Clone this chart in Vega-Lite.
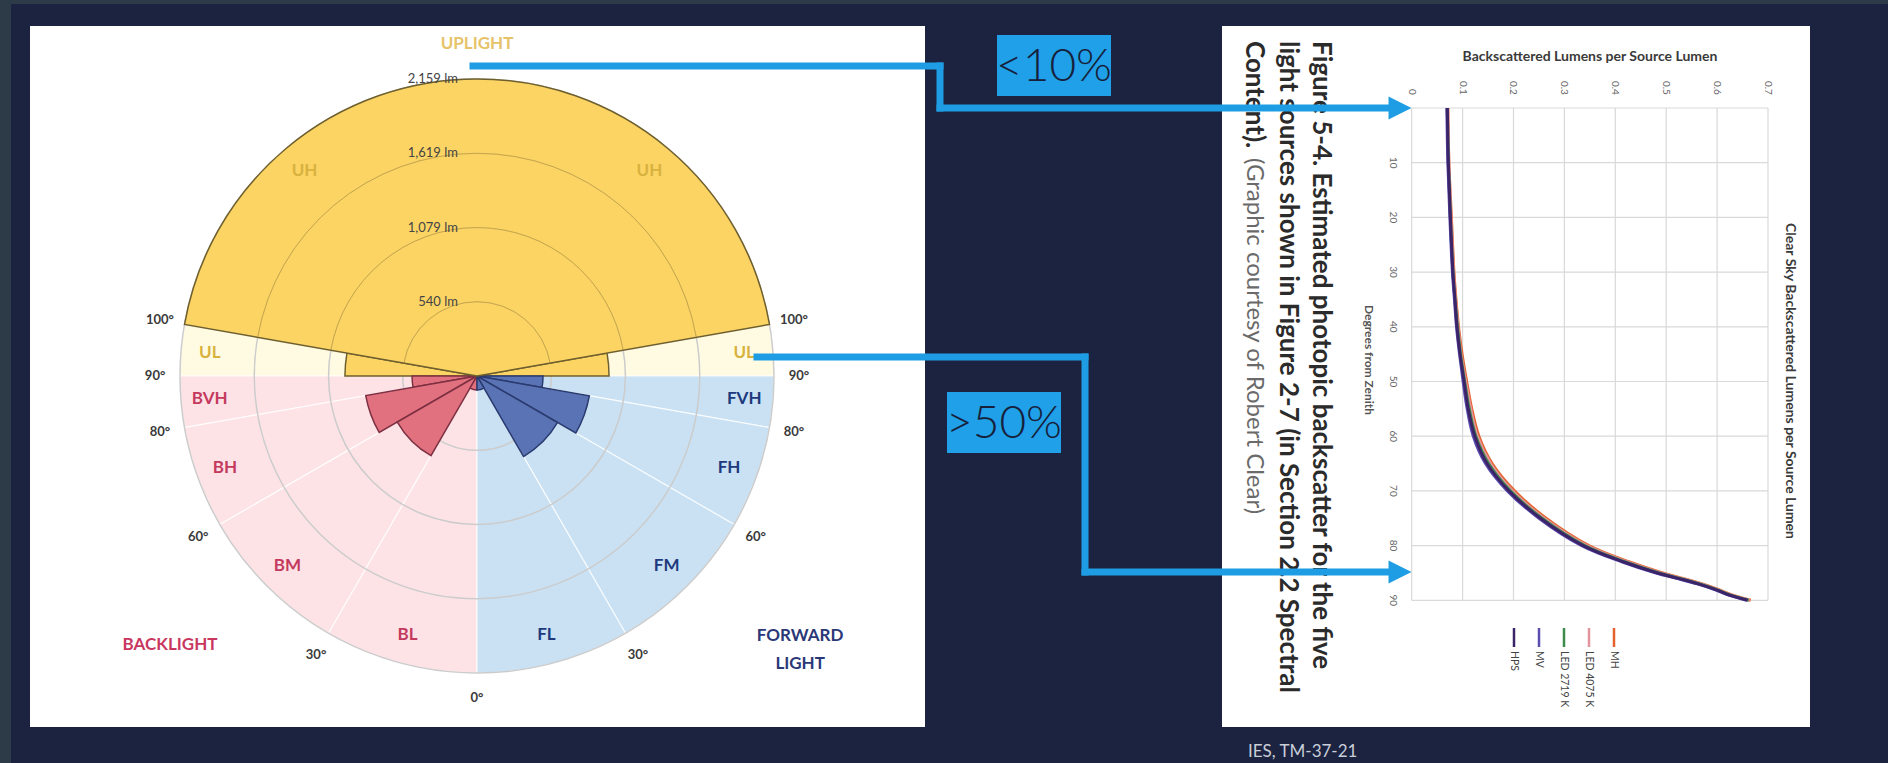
{
"$schema":"https://vega.github.io/schema/vega-lite/v6.json",
"width":1888,"height":763,"autosize":{"type":"none"},"padding":0,
"background":"#2c3b47",
"config":{"view":{"stroke":null},"font":"Lato"},
"datasets":{
"zones":[
{"zone":"UL","side":"back","region":"Uplight","a1":270,"a2":280,"lumens":960},
{"zone":"UL","side":"front","region":"Uplight","a1":80,"a2":90,"lumens":960},
{"zone":"BVH","side":"back","region":"Backlight","a1":260,"a2":270,"lumens":472},
{"zone":"BH","side":"back","region":"Backlight","a1":240,"a2":260,"lumens":821},
{"zone":"BM","side":"back","region":"Backlight","a1":210,"a2":240,"lumens":669},
{"zone":"BL","side":"back","region":"Backlight","a1":180,"a2":210,"lumens":102},
{"zone":"FVH","side":"front","region":"Forward light","a1":90,"a2":100,"lumens":480},
{"zone":"FH","side":"front","region":"Forward light","a1":100,"a2":120,"lumens":829},
{"zone":"FM","side":"front","region":"Forward light","a1":120,"a2":150,"lumens":676},
{"zone":"FL","side":"front","region":"Forward light","a1":150,"a2":180,"lumens":102},
{"zone":"UH","side":"back","region":"Uplight","a1":280,"a2":360,"lumens":2159},
{"zone":"UH","side":"front","region":"Uplight","a1":360,"a2":440,"lumens":2159}
],
"rings":[{"lm":0,"label":"0 lm"},{"lm":540,"label":"540 lm"},{"lm":1079,"label":"1,079 lm"},{"lm":1619,"label":"1,619 lm"},{"lm":2159,"label":"2,159 lm"}],
"angleTicks":[{"a":80,"label":"100°"},{"a":90,"label":"90°"},{"a":100,"label":"80°"},{"a":120,"label":"60°"},{"a":150,"label":"30°"},{"a":180,"label":"0°"},{"a":210,"label":"30°"},{"a":240,"label":"60°"},{"a":260,"label":"80°"},{"a":270,"label":"90°"},{"a":280,"label":"100°"}],
"xticks":[{"t":0},{"t":0.1},{"t":0.2},{"t":0.3},{"t":0.4},{"t":0.5},{"t":0.6},{"t":0.7}],
"yticks":[{"t":0},{"t":10},{"t":20},{"t":30},{"t":40},{"t":50},{"t":60},{"t":70},{"t":80},{"t":90}],
"backscatter":[
{"series":"MH","deg":0,"v":0.071},{"series":"MH","deg":10,"v":0.073},{"series":"MH","deg":20,"v":0.078},{"series":"MH","deg":30,"v":0.083},{"series":"MH","deg":35,"v":0.087},{"series":"MH","deg":40,"v":0.092},{"series":"MH","deg":45,"v":0.099},{"series":"MH","deg":50,"v":0.108},{"series":"MH","deg":55,"v":0.118},{"series":"MH","deg":60,"v":0.132},{"series":"MH","deg":65,"v":0.158},{"series":"MH","deg":70,"v":0.202},{"series":"MH","deg":75,"v":0.264},{"series":"MH","deg":80,"v":0.348},{"series":"MH","deg":83,"v":0.428},{"series":"MH","deg":85,"v":0.493},{"series":"MH","deg":86,"v":0.533},{"series":"MH","deg":87,"v":0.571},{"series":"MH","deg":88,"v":0.602},{"series":"MH","deg":89,"v":0.629},{"series":"MH","deg":90,"v":0.666},
{"series":"LED 4075 K","deg":0,"v":0.071},{"series":"LED 4075 K","deg":10,"v":0.073},{"series":"LED 4075 K","deg":20,"v":0.077},{"series":"LED 4075 K","deg":30,"v":0.082},{"series":"LED 4075 K","deg":35,"v":0.086},{"series":"LED 4075 K","deg":40,"v":0.091},{"series":"LED 4075 K","deg":45,"v":0.097},{"series":"LED 4075 K","deg":50,"v":0.106},{"series":"LED 4075 K","deg":55,"v":0.116},{"series":"LED 4075 K","deg":60,"v":0.129},{"series":"LED 4075 K","deg":65,"v":0.155},{"series":"LED 4075 K","deg":70,"v":0.198},{"series":"LED 4075 K","deg":75,"v":0.26},{"series":"LED 4075 K","deg":80,"v":0.344},{"series":"LED 4075 K","deg":83,"v":0.424},{"series":"LED 4075 K","deg":85,"v":0.489},{"series":"LED 4075 K","deg":86,"v":0.53},{"series":"LED 4075 K","deg":87,"v":0.569},{"series":"LED 4075 K","deg":88,"v":0.6},{"series":"LED 4075 K","deg":89,"v":0.627},{"series":"LED 4075 K","deg":90,"v":0.664},
{"series":"LED 2719 K","deg":0,"v":0.07},{"series":"LED 2719 K","deg":10,"v":0.072},{"series":"LED 2719 K","deg":20,"v":0.076},{"series":"LED 2719 K","deg":30,"v":0.081},{"series":"LED 2719 K","deg":35,"v":0.085},{"series":"LED 2719 K","deg":40,"v":0.09},{"series":"LED 2719 K","deg":45,"v":0.096},{"series":"LED 2719 K","deg":50,"v":0.104},{"series":"LED 2719 K","deg":55,"v":0.113},{"series":"LED 2719 K","deg":60,"v":0.126},{"series":"LED 2719 K","deg":65,"v":0.151},{"series":"LED 2719 K","deg":70,"v":0.194},{"series":"LED 2719 K","deg":75,"v":0.256},{"series":"LED 2719 K","deg":80,"v":0.34},{"series":"LED 2719 K","deg":83,"v":0.42},{"series":"LED 2719 K","deg":85,"v":0.486},{"series":"LED 2719 K","deg":86,"v":0.527},{"series":"LED 2719 K","deg":87,"v":0.566},{"series":"LED 2719 K","deg":88,"v":0.598},{"series":"LED 2719 K","deg":89,"v":0.625},{"series":"LED 2719 K","deg":90,"v":0.662},
{"series":"MV","deg":0,"v":0.069},{"series":"MV","deg":10,"v":0.071},{"series":"MV","deg":20,"v":0.075},{"series":"MV","deg":30,"v":0.08},{"series":"MV","deg":35,"v":0.084},{"series":"MV","deg":40,"v":0.088},{"series":"MV","deg":45,"v":0.094},{"series":"MV","deg":50,"v":0.101},{"series":"MV","deg":55,"v":0.109},{"series":"MV","deg":60,"v":0.121},{"series":"MV","deg":65,"v":0.145},{"series":"MV","deg":70,"v":0.188},{"series":"MV","deg":75,"v":0.25},{"series":"MV","deg":80,"v":0.334},{"series":"MV","deg":83,"v":0.414},{"series":"MV","deg":85,"v":0.48},{"series":"MV","deg":86,"v":0.521},{"series":"MV","deg":87,"v":0.561},{"series":"MV","deg":88,"v":0.594},{"series":"MV","deg":89,"v":0.621},{"series":"MV","deg":90,"v":0.658},
{"series":"HPS","deg":0,"v":0.07},{"series":"HPS","deg":10,"v":0.072},{"series":"HPS","deg":20,"v":0.076},{"series":"HPS","deg":30,"v":0.081},{"series":"HPS","deg":35,"v":0.085},{"series":"HPS","deg":40,"v":0.089},{"series":"HPS","deg":45,"v":0.095},{"series":"HPS","deg":50,"v":0.103},{"series":"HPS","deg":55,"v":0.111},{"series":"HPS","deg":60,"v":0.124},{"series":"HPS","deg":65,"v":0.148},{"series":"HPS","deg":70,"v":0.191},{"series":"HPS","deg":75,"v":0.253},{"series":"HPS","deg":80,"v":0.337},{"series":"HPS","deg":83,"v":0.417},{"series":"HPS","deg":85,"v":0.483},{"series":"HPS","deg":86,"v":0.524},{"series":"HPS","deg":87,"v":0.563},{"series":"HPS","deg":88,"v":0.596},{"series":"HPS","deg":89,"v":0.623},{"series":"HPS","deg":90,"v":0.66}
]
},
"resolve":{"scale":{"x":"independent","y":"independent"}},
"layer":[
{
"layer":[
{"data":{"values":[{}]},"mark":{"type":"rect","color":"#1b2340"},"encoding":{"x":{"datum":11,"type":"quantitative","scale":{"domain":[0,1888],"nice":false,"zero":false},"axis":null},"x2":{"datum":1888},"y":{"datum":4,"type":"quantitative","scale":{"domain":[0,763],"reverse":true,"nice":false,"zero":false},"axis":null},"y2":{"datum":763}}},
{"data":{"values":[{}]},"mark":{"type":"rect","color":"#ffffff"},"encoding":{"x":{"datum":30,"type":"quantitative","axis":null},"x2":{"datum":925},"y":{"datum":26,"type":"quantitative","axis":null},"y2":{"datum":727}}},
{"data":{"values":[{}]},"mark":{"type":"rect","color":"#ffffff"},"encoding":{"x":{"datum":1222,"type":"quantitative","axis":null},"x2":{"datum":1810},"y":{"datum":26,"type":"quantitative","axis":null},"y2":{"datum":727}}},
{"data":{"name":"zones"},"mark":{"type":"arc","stroke":"#ffffff","strokeWidth":1.2,"strokeOpacity":0.8},
 "encoding":{"x":{"datum":477,"type":"quantitative","axis":null},"y":{"datum":376,"type":"quantitative","axis":null},
 "theta":{"field":"a1","type":"quantitative","stack":null,"scale":{"domain":[0,360],"range":[0,6.283185307179586],"nice":false,"zero":false}},"theta2":{"field":"a2"},
 "radius":{"datum":2159,"type":"quantitative","scale":{"type":"linear","domain":[0,2159],"range":[0,297],"nice":false,"zero":true}},
 "fill":{"condition":[{"test":"datum.region === 'Backlight'","value":"#fde3e6"},{"test":"datum.region === 'Forward light'","value":"#c9e1f3"}],"value":"#fffbe2"}}},
{"data":{"name":"rings"},"transform":[{"filter":"datum.lm > 0"}],"mark":{"type":"arc","fillOpacity":0,"stroke":"#cccccc","strokeWidth":1.5},
 "encoding":{"x":{"datum":477,"type":"quantitative","axis":null},"y":{"datum":376,"type":"quantitative","axis":null},"theta":{"datum":0,"type":"quantitative"},"theta2":{"datum":360},"radius":{"field":"lm","type":"quantitative","stack":null}}},
{"data":{"name":"rings"},"transform":[{"filter":"datum.lm == 0"}],"mark":{"type":"text","align":"right","baseline":"middle","dx":-17,"dy":-3,"fontSize":13,"color":"#444444"},
 "encoding":{"x":{"datum":477,"type":"quantitative","axis":null},"y":{"datum":376,"type":"quantitative","axis":null},"text":{"field":"label"}}},
{"data":{"name":"zones"},"transform":[{"filter":"datum.zone !== 'UH'"}],"mark":{"type":"arc","strokeWidth":1.5},
 "encoding":{"x":{"datum":477,"type":"quantitative","axis":null},"y":{"datum":376,"type":"quantitative","axis":null},
 "theta":{"field":"a1","type":"quantitative","stack":null},"theta2":{"field":"a2"},"radius":{"field":"lumens","type":"quantitative","stack":null},
 "fill":{"condition":[{"test":"datum.region === 'Backlight'","value":"#e2717f"},{"test":"datum.region === 'Forward light'","value":"#5a73b4"}],"value":"#fcd464"},
 "stroke":{"condition":[{"test":"datum.region === 'Backlight'","value":"#7d3042"},{"test":"datum.region === 'Forward light'","value":"#2b3b70"}],"value":"#6e5f2e"}}},
{"data":{"name":"zones"},"transform":[{"filter":"datum.zone === 'UH'"},{"aggregate":[{"op":"min","field":"a1","as":"a1"},{"op":"max","field":"a2","as":"a2"},{"op":"max","field":"lumens","as":"lumens"}],"groupby":["zone","region"]}],
 "mark":{"type":"arc","fill":"#fcd464","stroke":"#6e5f2e","strokeWidth":1.5},
 "encoding":{"x":{"datum":477,"type":"quantitative","axis":null},"y":{"datum":376,"type":"quantitative","axis":null},
 "theta":{"field":"a1","type":"quantitative","stack":null},"theta2":{"field":"a2"},"radius":{"field":"lumens","type":"quantitative","stack":null}}},
{"data":{"name":"rings"},"transform":[{"filter":"datum.lm > 0 && datum.lm < 2159"}],"mark":{"type":"arc","fillOpacity":0,"stroke":"#9a8540","strokeOpacity":0.35,"strokeWidth":1},
 "encoding":{"x":{"datum":477,"type":"quantitative","axis":null},"y":{"datum":376,"type":"quantitative","axis":null},"theta":{"datum":280,"type":"quantitative"},"theta2":{"datum":440},"radius":{"field":"lm","type":"quantitative","stack":null},"radius2":{"field":"lm"}}},
{"data":{"name":"rings"},"transform":[{"filter":"datum.lm > 0"}],"mark":{"type":"text","align":"right","baseline":"middle","dx":-19,"fontSize":13,"color":"#444444"},
 "encoding":{"x":{"datum":477,"type":"quantitative","axis":null},"y":{"datum":376,"type":"quantitative","axis":null},"theta":{"datum":0,"type":"quantitative"},"radius":{"field":"lm","type":"quantitative","stack":null},"text":{"field":"label"}}},
{"data":{"name":"angleTicks"},"mark":{"type":"text","align":"center","baseline":"middle","fontSize":13,"fontWeight":"bold","color":"#3a3a3a"},
 "encoding":{"x":{"datum":477,"type":"quantitative","axis":null},"y":{"datum":376,"type":"quantitative","axis":null},"theta":{"field":"a","type":"quantitative","stack":null},"radius":{"datum":2340,"type":"quantitative"},"text":{"field":"label"}}},
{"data":{"name":"zones"},"transform":[{"fold":["a1","a2"],"as":["edge","ang"]},{"aggregate":[{"op":"mean","field":"ang","as":"mid"}],"groupby":["zone","side","region"]}],
 "mark":{"type":"text","align":"center","baseline":"middle","fontSize":17,"fontWeight":"bold"},
 "encoding":{"x":{"datum":477,"type":"quantitative","axis":null},"y":{"datum":376,"type":"quantitative","axis":null},"theta":{"field":"mid","type":"quantitative","stack":null},"radius":{"datum":1950,"type":"quantitative"},"text":{"field":"zone"},
 "color":{"condition":[{"test":"datum.region === 'Backlight'","value":"#c43a5e"},{"test":"datum.region === 'Forward light'","value":"#20397d"}],"value":"#d8b23e"}}},
{"data":{"values":[{}]},"mark":{"type":"text","text":"UPLIGHT","align":"center","baseline":"middle","fontSize":17,"fontWeight":"bold","color":"#e6c369"},
 "encoding":{"x":{"datum":477,"type":"quantitative","axis":null},"y":{"datum":376,"type":"quantitative","axis":null},"theta":{"datum":0,"type":"quantitative"},"radius":{"datum":2414,"type":"quantitative"}}},
{"data":{"values":[{}]},"mark":{"type":"text","text":"BACKLIGHT","align":"center","baseline":"middle","fontSize":17,"fontWeight":"bold","color":"#c9375f"},
 "encoding":{"x":{"datum":477,"type":"quantitative","axis":null},"y":{"datum":376,"type":"quantitative","axis":null},"theta":{"datum":228.8,"type":"quantitative"},"radius":{"datum":2966,"type":"quantitative"}}},
{"data":{"values":[{}]},"mark":{"type":"text","text":["FORWARD","LIGHT"],"lineHeight":28,"align":"center","baseline":"middle","fontSize":17,"fontWeight":"bold","color":"#2b3878"},
 "encoding":{"x":{"datum":477,"type":"quantitative","axis":null},"y":{"datum":376,"type":"quantitative","axis":null},"theta":{"datum":128.8,"type":"quantitative"},"radius":{"datum":3014,"type":"quantitative"}}}
]
},
{
"layer":[
{"data":{"name":"xticks"},"mark":{"type":"rule","color":"#d9d9d9","strokeWidth":1.2},
 "encoding":{"x":{"field":"t","type":"quantitative","scale":{"domain":[-2.77348,0.93576],"nice":false,"zero":false},"axis":null},"y":{"datum":0,"type":"quantitative","scale":{"domain":[-19.744,119.744],"reverse":true,"nice":false,"zero":false},"axis":null},"y2":{"datum":90}}},
{"data":{"name":"yticks"},"mark":{"type":"rule","color":"#d9d9d9","strokeWidth":1.2},
 "encoding":{"y":{"field":"t","type":"quantitative","axis":null},"x":{"datum":0,"type":"quantitative","axis":null},"x2":{"datum":0.7}}},
{"data":{"name":"xticks"},"mark":{"type":"text","angle":90,"align":"right","baseline":"middle","fontSize":10,"color":"#666666"},
 "encoding":{"x":{"field":"t","type":"quantitative","axis":null},"y":{"datum":-2.4,"type":"quantitative","axis":null},"text":{"field":"t","type":"quantitative","format":"~g"}}},
{"data":{"name":"yticks"},"mark":{"type":"text","angle":90,"align":"center","baseline":"top","fontSize":10,"color":"#666666"},
 "encoding":{"y":{"field":"t","type":"quantitative","axis":null},"x":{"datum":-0.027,"type":"quantitative","axis":null},"text":{"field":"t","type":"quantitative","format":"~g"}}},
{"data":{"name":"backscatter"},"mark":{"type":"line","strokeWidth":3,"interpolate":"catmull-rom"},
 "encoding":{"x":{"field":"v","type":"quantitative","axis":null},"y":{"field":"deg","type":"quantitative","axis":null},
 "color":{"field":"series","type":"nominal","scale":{"domain":["MH","LED 4075 K","LED 2719 K","MV","HPS"],"range":["#e5622d","#e4949c","#3d8c4c","#5a4cb0","#3c2468"]},"legend":null},
 "order":{"field":"deg","type":"quantitative"}}}
]
},
{
"data":{"name":"backscatter"},"transform":[{"filter":"datum.deg == 0"}],
"layer":[
{"mark":{"type":"rule","strokeWidth":2.5},
 "encoding":{"x":{"field":"series","type":"nominal","scale":{"type":"point","domain":["HPS","MV","LED 2719 K","LED 4075 K","MH"],"range":[1514,1614],"padding":0},"axis":null},"y":{"datum":628,"type":"quantitative","scale":{"domain":[0,763],"reverse":true,"nice":false,"zero":false},"axis":null},"y2":{"datum":647},
 "color":{"field":"series","type":"nominal","legend":null}}},
{"mark":{"type":"text","angle":90,"align":"left","baseline":"middle","fontSize":10.5,"color":"#444444"},
 "encoding":{"x":{"field":"series","type":"nominal","axis":null},"y":{"datum":651,"type":"quantitative","axis":null},"text":{"field":"series"}}}
]
},
{
"layer":[
{"data":{"values":[{}]},"mark":{"type":"text","text":"Figure 5-4. Estimated photopic backscatter for the five","angle":90,"align":"left","baseline":"middle","fontSize":26,"fontWeight":"bold","color":"#2b2b2b"},
 "encoding":{"x":{"datum":1321,"type":"quantitative","scale":{"domain":[0,1888],"nice":false,"zero":false},"axis":null},"y":{"datum":41,"type":"quantitative","scale":{"domain":[0,763],"reverse":true,"nice":false,"zero":false},"axis":null}}},
{"data":{"values":[{}]},"mark":{"type":"text","text":"light sources shown in Figure 2-7 (in Section 2.2 Spectral","angle":90,"align":"left","baseline":"middle","fontSize":26,"fontWeight":"bold","color":"#2b2b2b"},
 "encoding":{"x":{"datum":1288,"type":"quantitative","axis":null},"y":{"datum":41,"type":"quantitative","axis":null}}},
{"data":{"values":[{}]},"mark":{"type":"text","text":"Content).","angle":90,"align":"left","baseline":"middle","fontSize":26,"fontWeight":"bold","color":"#2b2b2b"},
 "encoding":{"x":{"datum":1254,"type":"quantitative","axis":null},"y":{"datum":41,"type":"quantitative","axis":null}}},
{"data":{"values":[{}]},"mark":{"type":"text","text":"(Graphic courtesy of Robert Clear)","angle":90,"align":"left","baseline":"middle","fontSize":24,"color":"#6a6a6a"},
 "encoding":{"x":{"datum":1254,"type":"quantitative","axis":null},"y":{"datum":158,"type":"quantitative","axis":null}}},
{"data":{"values":[{}]},"mark":{"type":"text","text":"Backscattered Lumens per Source Lumen","align":"center","baseline":"middle","fontSize":14,"fontWeight":"bold","color":"#3a3a3a"},
 "encoding":{"x":{"datum":1590,"type":"quantitative","axis":null},"y":{"datum":57,"type":"quantitative","axis":null}}},
{"data":{"values":[{}]},"mark":{"type":"text","text":"Clear Sky Backscattered Lumens per Source Lumen","angle":90,"align":"center","baseline":"middle","fontSize":14,"fontWeight":"bold","color":"#3a3a3a"},
 "encoding":{"x":{"datum":1790,"type":"quantitative","axis":null},"y":{"datum":381,"type":"quantitative","axis":null}}},
{"data":{"values":[{}]},"mark":{"type":"text","text":"Degrees from Zenith","angle":90,"align":"center","baseline":"middle","fontSize":12,"fontWeight":"bold","color":"#555555"},
 "encoding":{"x":{"datum":1369,"type":"quantitative","axis":null},"y":{"datum":360,"type":"quantitative","axis":null}}},
{"data":{"values":[{}]},"mark":{"type":"rule","color":"#1e9de4","strokeWidth":7,"strokeCap":"square"},"encoding":{"x":{"datum":473,"type":"quantitative","axis":null},"x2":{"datum":940},"y":{"datum":66,"type":"quantitative","axis":null},"y2":{"datum":66}}},
{"data":{"values":[{}]},"mark":{"type":"rule","color":"#1e9de4","strokeWidth":7,"strokeCap":"square"},"encoding":{"x":{"datum":940,"type":"quantitative","axis":null},"x2":{"datum":940},"y":{"datum":66,"type":"quantitative","axis":null},"y2":{"datum":108}}},
{"data":{"values":[{}]},"mark":{"type":"rule","color":"#1e9de4","strokeWidth":7,"strokeCap":"square"},"encoding":{"x":{"datum":940,"type":"quantitative","axis":null},"x2":{"datum":1392},"y":{"datum":108,"type":"quantitative","axis":null},"y2":{"datum":108}}},
{"data":{"values":[{}]},"mark":{"type":"rule","color":"#1e9de4","strokeWidth":7,"strokeCap":"square"},"encoding":{"x":{"datum":757,"type":"quantitative","axis":null},"x2":{"datum":1085},"y":{"datum":357,"type":"quantitative","axis":null},"y2":{"datum":357}}},
{"data":{"values":[{}]},"mark":{"type":"rule","color":"#1e9de4","strokeWidth":7,"strokeCap":"square"},"encoding":{"x":{"datum":1085,"type":"quantitative","axis":null},"x2":{"datum":1085},"y":{"datum":357,"type":"quantitative","axis":null},"y2":{"datum":572}}},
{"data":{"values":[{}]},"mark":{"type":"rule","color":"#1e9de4","strokeWidth":7,"strokeCap":"square"},"encoding":{"x":{"datum":1085,"type":"quantitative","axis":null},"x2":{"datum":1392},"y":{"datum":572,"type":"quantitative","axis":null},"y2":{"datum":572}}},
{"data":{"values":[{}]},"mark":{"type":"point","shape":"M-1,-1L1,0L-1,1Z","size":529,"filled":true,"opacity":1,"color":"#1e9de4"},"encoding":{"x":{"datum":1400,"type":"quantitative","axis":null},"y":{"datum":108,"type":"quantitative","axis":null}}},
{"data":{"values":[{}]},"mark":{"type":"point","shape":"M-1,-1L1,0L-1,1Z","size":529,"filled":true,"opacity":1,"color":"#1e9de4"},"encoding":{"x":{"datum":1400,"type":"quantitative","axis":null},"y":{"datum":572,"type":"quantitative","axis":null}}},
{"data":{"values":[{}]},"mark":{"type":"rect","color":"#1fa0e8"},"encoding":{"x":{"datum":997,"type":"quantitative","axis":null},"x2":{"datum":1111},"y":{"datum":35,"type":"quantitative","axis":null},"y2":{"datum":96}}},
{"data":{"values":[{}]},"mark":{"type":"rect","color":"#1fa0e8"},"encoding":{"x":{"datum":947,"type":"quantitative","axis":null},"x2":{"datum":1061},"y":{"datum":392,"type":"quantitative","axis":null},"y2":{"datum":453}}},
{"data":{"values":[{}]},"mark":{"type":"text","text":"<10%","align":"center","baseline":"middle","fontSize":46,"fontWeight":300,"color":"#17203a"},"encoding":{"x":{"datum":1054,"type":"quantitative","axis":null},"y":{"datum":67,"type":"quantitative","axis":null}}},
{"data":{"values":[{}]},"mark":{"type":"text","text":">50%","align":"center","baseline":"middle","fontSize":46,"fontWeight":300,"color":"#17203a"},"encoding":{"x":{"datum":1004,"type":"quantitative","axis":null},"y":{"datum":424,"type":"quantitative","axis":null}}},
{"data":{"values":[{}]},"mark":{"type":"text","text":"IES, TM-37-21","align":"left","baseline":"middle","fontSize":17,"color":"#c9ced8"},"encoding":{"x":{"datum":1248,"type":"quantitative","axis":null},"y":{"datum":752,"type":"quantitative","axis":null}}}
]
}
]
}
